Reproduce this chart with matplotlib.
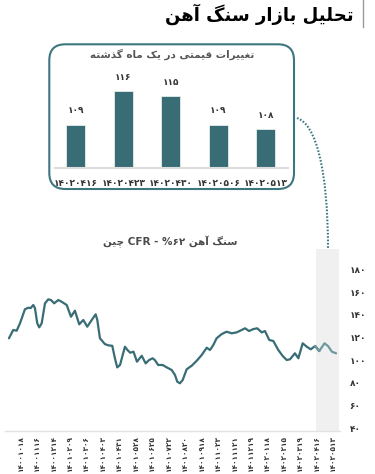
import matplotlib.pyplot as plt
from matplotlib.patches import FancyBboxPatch, PathPatch
from matplotlib.path import Path
from matplotlib.lines import Line2D

# ---- data ----
title = "تحلیل بازار سنگ آهن"
inset_title = "تغییرات قیمتی در یک ماه گذشته"
chart_title = "سنگ آهن 62% - CFR چین"

date_labels = ["14001018", "14001116", "14001214", "14010209", "14010306",
               "14010403", "14010431", "14010528", "14010625", "14010722",
               "14010820", "14010918", "14011023", "14011121", "14011219",
               "14020118", "14020215", "14020319", "14020416", "14020513"]

# position measured in label steps (0 = first date label)
t = [-0.71, -0.45, -0.24, -0.04, 0.26, 0.46, 0.61, 0.77, 0.87, 1.01, 1.13, 1.28,
     1.48, 1.68, 1.84, 2.04, 2.29, 2.49, 2.80, 3.06, 3.30, 3.56, 3.81, 4.05,
     4.32, 4.56, 4.66, 4.82, 5.12, 5.33, 5.57, 5.73, 5.87, 6.04, 6.34, 6.49,
     6.66, 6.86, 7.07, 7.36, 7.60, 7.80, 8.02, 8.16, 8.36, 8.63, 8.88, 9.18,
     9.38, 9.52, 9.68, 9.85, 10.09, 10.40, 10.70, 11.00, 11.31, 11.51, 11.71,
     11.91, 12.22, 12.52, 12.83, 13.13, 13.43, 13.64, 13.88, 14.14, 14.38,
     14.65, 14.85, 15.11, 15.36, 15.66, 15.93, 16.17, 16.37, 16.67, 16.88,
     17.14, 17.39, 17.63, 17.90, 18.15, 18.47, 18.68, 18.92, 19.17]
price = [119.3, 126.6, 126.0, 132.5, 144.8, 146.2, 145.9, 148.6, 145.9, 132.5,
         128.9, 132.5, 150.1, 153.6, 153.0, 150.1, 153.0, 151.5, 148.6, 138.3,
         143.6, 131.6, 135.4, 129.5, 135.4, 140.4, 135.4, 119.3, 114.2, 113.1,
         112.7, 101.7, 93.7, 95.8, 111.9, 109.0, 106.6, 107.5, 98.7, 103.9,
         97.2, 100.1, 101.7, 100.1, 95.8, 95.8, 93.7, 91.4, 87.0, 81.1, 79.7,
         82.6, 92.0, 95.2, 99.5, 104.5, 111.0, 109.0, 113.4, 119.3, 123.0,
         125.1, 123.7, 124.5, 126.6, 128.1, 125.7, 127.4, 128.1, 124.5, 125.7,
         117.8, 116.9, 109.0, 103.7, 100.2, 100.8, 106.1, 101.7, 114.9, 111.9,
         109.6, 112.5, 108.1, 114.9, 112.5, 107.5, 106.1]

y_ticks = [40, 60, 80, 100, 120, 140, 160, 180]

bar_dates = ["14020416", "14020423", "14020430", "14020506", "14020513"]
bar_vals = [109, 116, 115, 109, 108]

highlight = (17.95, 19.35)

TEAL = "#386d76"
TEAL_LIGHT = "#6f989e"

# ---- minimal persian shaping (matplotlib has no bidi / joining) ----
FORMS = {
    "ب": "\uFE8F\uFE90\uFE91\uFE92", "ت": "\uFE95\uFE96\uFE97\uFE98",
    "ح": "\uFEA1\uFEA2\uFEA3\uFEA4", "س": "\uFEB1\uFEB2\uFEB3\uFEB4",
    "ش": "\uFEB5\uFEB6\uFEB7\uFEB8", "غ": "\uFECD\uFECE\uFECF\uFED0",
    "ق": "\uFED5\uFED6\uFED7\uFED8", "ل": "\uFEDD\uFEDE\uFEDF\uFEE0",
    "م": "\uFEE1\uFEE2\uFEE3\uFEE4", "ن": "\uFEE5\uFEE6\uFEE7\uFEE8",
    "ه": "\uFEE9\uFEEA\uFEEB\uFEEC", "ی": "\uFBFC\uFBFD\uFBFE\uFBFF",
    "ک": "\uFB8E\uFB8F\uFB90\uFB91", "گ": "\uFB92\uFB93\uFB94\uFB95",
    "چ": "\uFB7A\uFB7B\uFB7C\uFB7D",
    "ا": "\uFE8D\uFE8E", "آ": "\uFE81\uFE82", "د": "\uFEA9\uFEAA",
    "ذ": "\uFEAB\uFEAC", "ر": "\uFEAD\uFEAE", "ز": "\uFEAF\uFEB0",
    "و": "\uFEED\uFEEE",
}
FA_DIGITS = str.maketrans("0123456789", "۰۱۲۳۴۵۶۷۸۹")


def fa_num(s):
    return str(s).translate(FA_DIGITS)


def fa(text):
    text = fa_num(text)
    out = []
    for i, ch in enumerate(text):
        if ch not in FORMS:
            out.append(ch)
            continue
        prev = text[i - 1] if i > 0 else ""
        nxt = text[i + 1] if i + 1 < len(text) else ""
        join_prev = prev in FORMS and len(FORMS[prev]) == 4
        join_next = len(FORMS[ch]) == 4 and nxt in FORMS
        f = FORMS[ch]
        if join_prev and join_next:
            out.append(f[3])
        elif join_prev:
            out.append(f[1])
        elif join_next:
            out.append(f[2])
        else:
            out.append(f[0])
    shaped = "".join(out)
    # split into ltr / rtl runs, then lay out right to left
    runs = []
    for ch in shaped:
        ltr = ch.isascii() and ch.isalnum() or "\u06F0" <= ch <= "\u06F9"
        if runs and runs[-1][0] == ltr:
            runs[-1][1] += ch
        else:
            runs.append([ltr, ch])
    return "".join(r if ltr else r[::-1] for ltr, r in reversed(runs))


plt.rcParams["font.family"] = ["DejaVu Sans"]

fig = plt.figure(figsize=(3.75, 4.74), dpi=100)
W, H = 375, 474


def px_axes(x0, y0, x1, y1):
    return fig.add_axes([x0 / W, 1 - y1 / H, (x1 - x0) / W, (y1 - y0) / H])


# ---- header ----
fig.text(354 / W, 1 - 14 / H, fa(title), ha="right", va="center",
         fontsize=13, fontweight="bold", color="black")
fig.add_artist(Line2D([362.5 / W, 362.5 / W], [1, 1 - 27 / H],
                      transform=fig.transFigure, color="#9a9a9a", lw=1))

# ---- inset box with bars ----
box = FancyBboxPatch((0.493, (H - 189) / 100), 2.447, 1.447,
                     boxstyle="round,pad=0,rounding_size=0.16",
                     transform=fig.dpi_scale_trans, fill=False,
                     edgecolor="#3e7680", lw=1.5)
fig.add_artist(box)
fig.text(172 / W, 1 - 54 / H, fa(inset_title), ha="center", va="center",
         fontsize=7.5, fontweight="bold", color="#555555")

ax_in = px_axes(55, 72, 288, 167.7)
xs = range(len(bar_vals))
ax_in.bar(xs, [v - 100 for v in bar_vals], bottom=100, width=0.4,
          color=TEAL, edgecolor="#e8eeee", lw=0.6)
for x, v in zip(xs, bar_vals):
    ax_in.annotate(fa_num(v), (x, v), xytext=(0, 10), textcoords="offset points",
                   ha="center", va="center", fontsize=6.5, fontweight="bold",
                   color="#333333")
ax_in.set_xlim(-0.44, 4.47)
ax_in.set_ylim(100, 120)
ax_in.set_xticks(list(xs))
ax_in.set_xticklabels([fa_num(d) for d in bar_dates], fontsize=6.5,
                      fontweight="bold", color="#333333")
ax_in.tick_params(axis="x", length=0, pad=8)
ax_in.set_yticks([])
for s in ["top", "left", "right"]:
    ax_in.spines[s].set_visible(False)
ax_in.spines["bottom"].set_color("#dddddd")
ax_in.spines["bottom"].set_linewidth(1.5)
ax_in.patch.set_alpha(0)

# dotted connector from box to highlighted zone
p0 = (297, 118)
c1 = (316, 124)
c2 = (328, 170)
p3 = (328, 249)
verts = [(x / 100, (H - y) / 100) for x, y in (p0, c1, c2, p3)]
conn = PathPatch(Path(verts, [Path.MOVETO, Path.CURVE4, Path.CURVE4, Path.CURVE4]),
                 transform=fig.dpi_scale_trans, fill=False, edgecolor="#3e7a82",
                 lw=1.5, linestyle=(0, (0.8, 0.8)))
fig.add_artist(conn)

# ---- main line chart ----
fig.text(170 / W, 1 - 242 / H, fa(chart_title), ha="center", va="center",
         fontsize=7.5, fontweight="bold", color="#4a4a4a")

ax = px_axes(5, 249, 340, 431)
ax.axvspan(*highlight, color="#f0f0f0", lw=0, zorder=0)
n_dark = sum(1 for v in t if v <= 18.15)
ax.plot(t[:n_dark], price[:n_dark], color=TEAL, lw=1.6,
        solid_joinstyle="round", solid_capstyle="round", zorder=3)
ax.plot(t[n_dark - 2:], price[n_dark - 2:], color=TEAL_LIGHT, lw=1.6,
        solid_joinstyle="round", solid_capstyle="round", zorder=4)
ax.set_xlim(-0.95, 19.41)
ax.set_ylim(37.7, 197.9)
ax.set_xticks(range(len(date_labels)))
ax.set_xticklabels([fa_num(d) for d in date_labels], rotation=90,
                   fontsize=5.2, fontweight="bold", color="#333333")
ax.yaxis.tick_right()
ax.set_yticks(y_ticks)
ax.set_yticklabels([fa_num(v) for v in y_ticks], fontsize=6.5,
                   fontweight="bold", color="#333333")
ax.tick_params(axis="both", length=0)
ax.tick_params(axis="y", pad=7)
ax.tick_params(axis="x", pad=3)
for s in ["top", "left", "right"]:
    ax.spines[s].set_visible(False)
ax.spines["bottom"].set_color("#e2e2e2")
ax.spines["bottom"].set_linewidth(1)
ax.patch.set_alpha(0)

fig.savefig("out.png", dpi=100)
plt.close(fig)
